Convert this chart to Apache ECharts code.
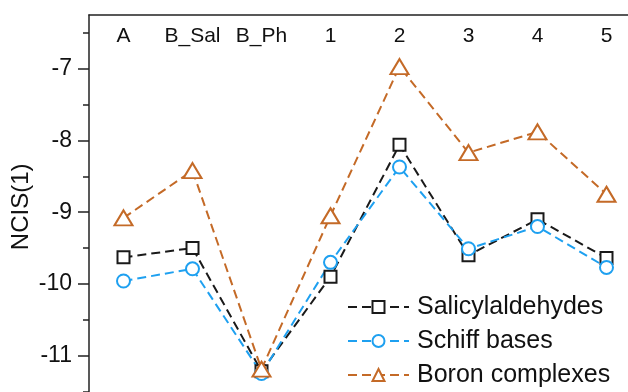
<!DOCTYPE html>
<html>
<head>
<meta charset="utf-8">
<script src="https://cdn.jsdelivr.net/npm/echarts@6/dist/echarts.min.js"></script>
<style>
html,body{margin:0;padding:0;background:#fff;}
#c{width:628px;height:392px;}
</style>
</head>
<body>
<div id="c"></div>
<script>
const categories = ['A', 'B_Sal', 'B_Ph', '1', '2', '3', '4', '5'];
const salicylaldehydes = [-9.63, -9.50, -11.22, -9.90, -8.06, -9.60, -9.10, -9.64];
const schiffBases = [-9.96, -9.79, -11.25, -9.70, -8.37, -9.51, -9.20, -9.77];
const boronComplexes = [-9.08, -8.42, -11.19, -9.05, -6.97, -8.17, -7.88, -8.75];
const majorTicks = [-11, -10, -9, -8, -7];
const minorTicks = [-11.5, -10.5, -9.5, -8.5, -7.5, -6.5];
const seriesNames = ['Salicylaldehydes', 'Schiff bases', 'Boron complexes'];

const FONT = '"Liberation Sans", Arial, Helvetica, sans-serif';
const colors = ['#1a1a1a', '#1ea0f0', '#c46a27'];
const yMin = -11.6, yMax = -6.25;

const chart = echarts.init(document.getElementById('c'), null, {renderer: 'canvas'});
function mkSeries(name, data, symbol, size, color) {
  return {
    name: name, type: 'line', data: data,
    symbol: symbol, symbolSize: size,
    lineStyle: {color: color, width: 2, type: [9, 5]},
    itemStyle: {color: color, borderColor: color, borderWidth: 2},
    emphasis: {disabled: true},
    animation: false
  };
}
chart.setOption({
  backgroundColor: '#ffffff',
  animation: false,
  textStyle: {fontFamily: FONT},
  grid: {left: 89, top: 15, width: 552, height: (yMax - yMin) * 71.7, containLabel: false, outerBoundsMode: 'none'},
  legend: {
    orient: 'vertical', left: 347, top: 292, height: 200, padding: 0,
    itemWidth: 61, itemHeight: 15, itemGap: 4,
    data: seriesNames,
    textStyle: {fontSize: 25, color: '#111', fontFamily: FONT, lineHeight: 30, padding: [0, 0, 0, 3]}
  },
  xAxis: {
    type: 'category', data: categories, position: 'top', boundaryGap: true,
    axisLine: {show: true, lineStyle: {color: '#222', width: 1.5}},
    axisTick: {show: false},
    axisLabel: {inside: true, interval: 0, margin: 11, fontSize: 21, color: '#111', fontFamily: FONT, verticalAlign: 'top'},
    splitLine: {show: false}
  },
  yAxis: [{
    type: 'value', min: yMin, max: yMax, position: 'left',
    name: 'NCIS(1)', nameLocation: 'middle', nameGap: 56, nameMoveOverlap: false,
    nameTextStyle: {fontSize: 24, color: '#111', fontFamily: FONT},
    axisLine: {show: true, lineStyle: {color: '#222', width: 1.5}},
    axisTick: {show: true, inside: false, length: 11, customValues: majorTicks, lineStyle: {color: '#222', width: 1.5}},
    axisLabel: {customValues: majorTicks, margin: 17, fontSize: 23, color: '#111', fontFamily: FONT},
    splitLine: {show: false}
  }, {
    type: 'value', min: yMin, max: yMax, position: 'left', offset: 0,
    axisLine: {show: false},
    axisTick: {show: true, inside: false, length: 6, customValues: minorTicks, lineStyle: {color: '#222', width: 1.5}},
    axisLabel: {show: false},
    splitLine: {show: false}
  }],
  series: [
    mkSeries(seriesNames[0], salicylaldehydes, 'emptyRect', 12, colors[0]),
    mkSeries(seriesNames[1], schiffBases, 'emptyCircle', 13, colors[1]),
    mkSeries(seriesNames[2], boronComplexes, 'emptyTriangle', [18, 15], colors[2])
  ]
});
</script>
</body>
</html>
